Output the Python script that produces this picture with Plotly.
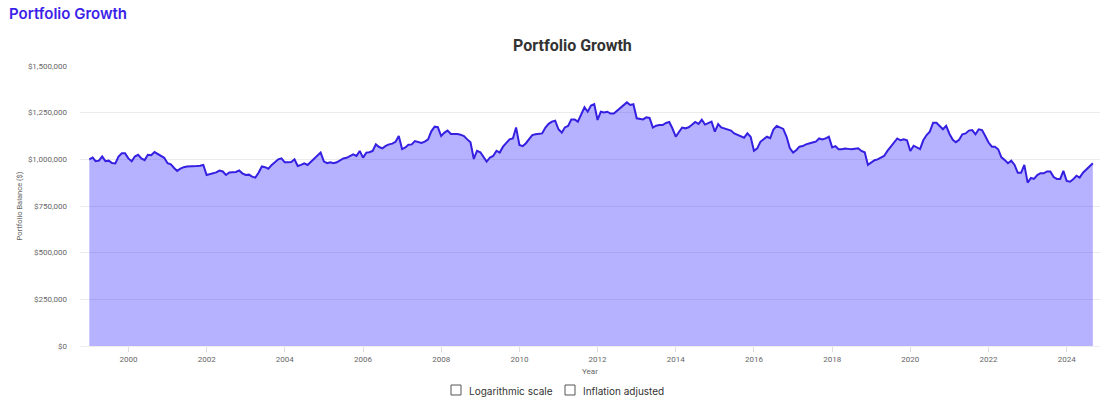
import plotly.graph_objects as go
import pandas as pd

# Monthly portfolio balance (in $ millions), Jan 1999 .. Sep 2024
v1999 = [1.000, 1.010, 0.990, 0.993, 1.015, 0.990, 0.993, 0.980, 0.978, 1.015, 1.032, 1.032]
v2000 = [1.005, 0.990, 1.015, 1.024, 1.005, 0.996, 1.024, 1.022, 1.039, 1.029, 1.020, 1.008]
v2001 = [0.979, 0.973, 0.955, 0.938, 0.950, 0.958, 0.961, 0.961, 0.962, 0.964, 0.966, 0.970]
v2002 = [0.916, 0.920, 0.926, 0.930, 0.940, 0.935, 0.916, 0.930, 0.931, 0.932, 0.940, 0.925]
v2003 = [0.916, 0.918, 0.907, 0.902, 0.928, 0.962, 0.958, 0.950, 0.970, 0.984, 1.000, 1.005]
v2004 = [0.984, 0.984, 0.986, 1.000, 0.964, 0.970, 0.979, 0.970, 0.988, 1.000, 1.018, 1.036]
v2005 = [0.988, 0.979, 0.984, 0.979, 0.984, 0.994, 1.005, 1.008, 1.020, 1.027, 1.018, 1.045]
v2006 = [1.009, 1.036, 1.038, 1.045, 1.080, 1.066, 1.059, 1.072, 1.080, 1.084, 1.094, 1.125]
v2007 = [1.055, 1.064, 1.078, 1.080, 1.098, 1.091, 1.088, 1.095, 1.107, 1.150, 1.175, 1.172]
v2008 = [1.125, 1.143, 1.154, 1.136, 1.137, 1.136, 1.132, 1.125, 1.107, 1.091, 1.002, 1.046]
v2009 = [1.038, 1.014, 0.988, 1.010, 1.018, 1.046, 1.036, 1.068, 1.090, 1.107, 1.112, 1.171]
v2010 = [1.077, 1.071, 1.085, 1.105, 1.130, 1.134, 1.137, 1.139, 1.170, 1.190, 1.202, 1.207]
v2011 = [1.161, 1.143, 1.171, 1.179, 1.214, 1.214, 1.202, 1.240, 1.279, 1.255, 1.288, 1.296]
v2012 = [1.211, 1.255, 1.251, 1.255, 1.245, 1.245, 1.261, 1.275, 1.292, 1.305, 1.291, 1.295]
v2013 = [1.220, 1.216, 1.214, 1.225, 1.222, 1.170, 1.180, 1.184, 1.184, 1.195, 1.200, 1.165]
v2014 = [1.121, 1.148, 1.170, 1.166, 1.172, 1.185, 1.200, 1.190, 1.212, 1.186, 1.193, 1.202]
v2015 = [1.148, 1.189, 1.171, 1.165, 1.160, 1.154, 1.139, 1.131, 1.123, 1.116, 1.139, 1.121]
v2016 = [1.046, 1.059, 1.094, 1.109, 1.121, 1.113, 1.160, 1.179, 1.171, 1.163, 1.121, 1.060]
v2017 = [1.036, 1.050, 1.068, 1.071, 1.080, 1.087, 1.090, 1.095, 1.112, 1.107, 1.112, 1.121]
v2018 = [1.064, 1.071, 1.054, 1.054, 1.058, 1.056, 1.054, 1.057, 1.059, 1.045, 1.038, 0.970]
v2019 = [0.985, 0.995, 1.000, 1.011, 1.018, 1.045, 1.068, 1.090, 1.112, 1.102, 1.107, 1.102]
v2020 = [1.045, 1.073, 1.064, 1.055, 1.102, 1.130, 1.148, 1.196, 1.196, 1.179, 1.161, 1.179]
v2021 = [1.136, 1.105, 1.092, 1.105, 1.134, 1.139, 1.154, 1.157, 1.134, 1.161, 1.157, 1.125]
v2022 = [1.090, 1.068, 1.068, 1.054, 1.011, 0.996, 0.979, 0.993, 0.970, 0.928, 0.928, 0.970]
v2023 = [0.875, 0.900, 0.895, 0.916, 0.926, 0.925, 0.935, 0.935, 0.905, 0.895, 0.895, 0.938]
v2024 = [0.884, 0.880, 0.893, 0.912, 0.902, 0.928, 0.943, 0.960, 0.979]

yearly = [v1999, v2000, v2001, v2002, v2003, v2004, v2005, v2006, v2007, v2008,
          v2009, v2010, v2011, v2012, v2013, v2014, v2015, v2016, v2017, v2018,
          v2019, v2020, v2021, v2022, v2023, v2024]
values = [v * 1_000_000 for year in yearly for v in year]
dates = pd.date_range("1999-01-01", periods=len(values), freq="MS")

y_ticks = [0, 250000, 500000, 750000, 1000000, 1250000, 1500000]
y_labels = ["$0", "$250,000", "$500,000", "$750,000", "$1,000,000", "$1,250,000", "$1,500,000"]

# Figure fills the whole window (body margin removed by post_script below)
W, H = 1100, 407
PLOT_L, PLOT_R, PLOT_T, PLOT_B = 80, 1100, 66, 346  # window coordinates
L, R, T, B = PLOT_L, W - PLOT_R, PLOT_T, H - PLOT_B
PW, PH = W - L - R, H - T - B


def px(x):
    return (x - L) / PW


def py(y):
    return (PLOT_B - y) / PH


fig = go.Figure()
fig.add_trace(go.Scatter(
    x=dates, y=values, mode="lines",
    line=dict(color="#3520e2", width=2),
    fill="tozeroy", fillcolor="rgba(45,33,255,0.35)",
    hoverinfo="x+y", showlegend=False,
))

font_main = "Roboto, 'Open Sans', sans-serif"

fig.update_layout(
    width=W, height=H,
    margin=dict(l=L, r=R, t=T, b=B),
    paper_bgcolor="white", plot_bgcolor="white",
    font=dict(family=font_main, color="#666666", size=8),
    xaxis=dict(
        type="date",
        range=["1998-10-06", "2024-11-07"],
        tick0="2000-01-01", dtick="M24", tickformat="%Y",
        ticks="outside", ticklen=5, tickcolor="#dddddd",
        showgrid=False, zeroline=False,
        showline=True, linecolor="#eeeeee", linewidth=1,
        tickfont=dict(size=8, color="#666666"),
        title=dict(text="Year", font=dict(size=8, color="#666666"), standoff=5),
    ),
    yaxis=dict(
        range=[0, 1500000],
        tickvals=y_ticks, ticktext=y_labels,
        showgrid=True, gridcolor="#ebebeb", gridwidth=1,
        zeroline=False, ticks="", ticklabelstandoff=12,
        tickfont=dict(size=8, color="#666666"),
        title=dict(text="Portfolio Balance ($)", font=dict(size=7.5, color="#666666"), standoff=4),
    ),
)

# Headings
fig.add_annotation(
    x=px(7), y=py(13), xref="paper", yref="paper", xanchor="left", yanchor="middle",
    text="Portfolio Growth", showarrow=False,
    font=dict(family="Inter, Roboto, sans-serif", size=15, color="#3b22e8", weight=600),
)
fig.add_annotation(
    x=px(572), y=py(45), xref="paper", yref="paper", xanchor="center", yanchor="middle",
    text="<b>Portfolio Growth</b>", showarrow=False,
    font=dict(family=font_main, size=16, color="#333333"),
)

# Checkbox controls under the chart
for bx, label in [(451, "Logarithmic scale"), (565, "Inflation adjusted")]:
    fig.add_shape(
        type="rect", xref="paper", yref="paper",
        x0=px(bx), x1=px(bx + 10), y0=py(395), y1=py(385),
        line=dict(color="#555555", width=1), fillcolor="white",
    )
    fig.add_annotation(
        x=px(bx + 16), y=py(390.5), xref="paper", yref="paper",
        xanchor="left", yanchor="middle", text=label, showarrow=False,
        font=dict(family="Inter, Roboto, sans-serif", size=10, color="#333333"),
    )

fig.write_html(
    "out.html",
    config={"displayModeBar": False},
    post_script="document.body.style.margin='0px';document.body.style.overflow='hidden';",
)
